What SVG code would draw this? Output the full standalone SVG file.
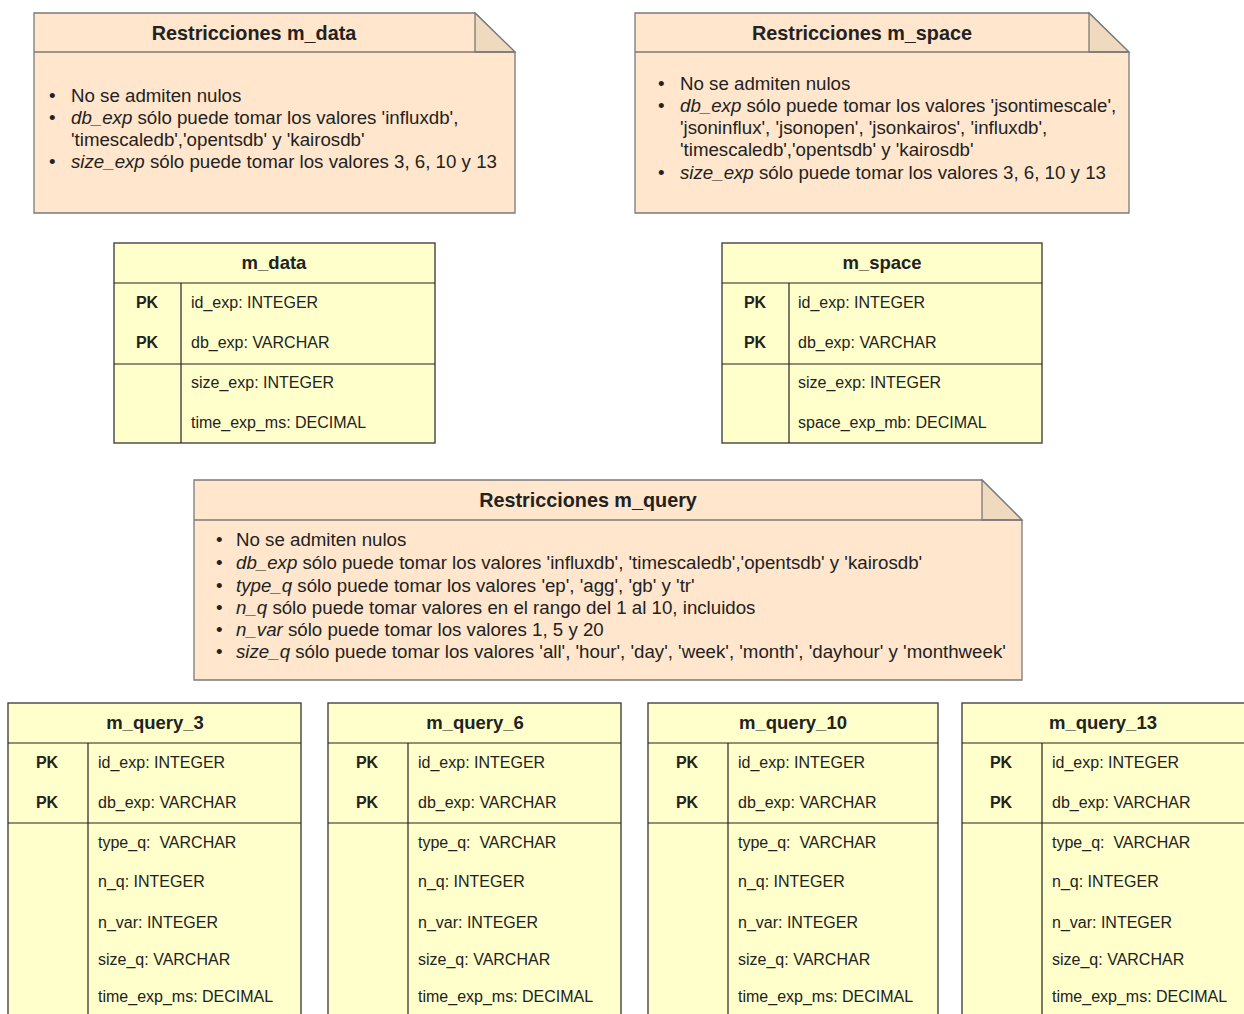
<svg xmlns="http://www.w3.org/2000/svg" width="1244" height="1014" viewBox="0 0 1244 1014">
  <style>
    text { font-family: "Liberation Sans", Arial, sans-serif; fill: #222; }
    .note { fill: #ffe6cc; stroke: #7a7a7a; stroke-width: 1.3; }
    .fold { fill: #efd9bf; stroke: #7a7a7a; stroke-width: 1.3; }
    .ntitle { font-size: 19.8px; font-weight: bold; text-anchor: middle; }
    .nbody { font-size: 18.7px; }
    .tbl { fill: #ffffcc; stroke: #444; stroke-width: 1.4; }
    .ln { stroke: #222; stroke-width: 1.2; fill: none; }
    .ttitle { font-size: 18.5px; font-weight: bold; text-anchor: middle; }
    .pk { font-size: 16px; font-weight: bold; text-anchor: middle; }
    .fld { font-size: 16px; }
    .it { font-style: italic; }
  </style>

  <!-- Note: constraints for m_data -->
  <g id="note-m_data">
    <path class="note" d="M34,13 H475 L515,52 V213 H34 Z"/>
    <path class="fold" d="M475,13 L515,52 H475 Z"/>
    <line class="note" x1="34" y1="52" x2="515" y2="52"/>
    <text class="ntitle" x="254" y="40">Restricciones m_data</text>
    <g class="nbody">
      <text x="49" y="102">•</text><text x="71" y="102">No se admiten nulos</text>
      <text x="49" y="124">•</text><text x="71" y="124"><tspan class="it">db_exp</tspan> sólo puede tomar los valores 'influxdb',</text>
      <text x="71" y="146">'timescaledb','opentsdb' y 'kairosdb'</text>
      <text x="49" y="168">•</text><text x="71" y="168"><tspan class="it">size_exp</tspan> sólo puede tomar los valores 3, 6, 10 y 13</text>
    </g>
  </g>

  <!-- Note: constraints for m_space -->
  <g id="note-m_space">
    <path class="note" d="M635,13 H1089 L1129,52 V213 H635 Z"/>
    <path class="fold" d="M1089,13 L1129,52 H1089 Z"/>
    <line class="note" x1="635" y1="52" x2="1129" y2="52"/>
    <text class="ntitle" x="862" y="40">Restricciones m_space</text>
    <g class="nbody">
      <text x="658" y="90">•</text><text x="680" y="90">No se admiten nulos</text>
      <text x="658" y="112">•</text><text x="680" y="112"><tspan class="it">db_exp</tspan> sólo puede tomar los valores 'jsontimescale',</text>
      <text x="680" y="134">'jsoninflux', 'jsonopen', 'jsonkairos', 'influxdb',</text>
      <text x="680" y="156">'timescaledb','opentsdb' y 'kairosdb'</text>
      <text x="658" y="179">•</text><text x="680" y="179"><tspan class="it">size_exp</tspan> sólo puede tomar los valores 3, 6, 10 y 13</text>
    </g>
  </g>

  <!-- Table m_data -->
  <g id="table-m_data">
    <rect class="tbl" x="114" y="243" width="321" height="200"/>
    <line class="ln" x1="114" y1="283" x2="435" y2="283"/>
    <line class="ln" x1="114" y1="364" x2="435" y2="364"/>
    <line class="ln" x1="181" y1="283" x2="181" y2="443"/>
    <text class="ttitle" x="274" y="269">m_data</text>
    <text class="pk" x="147" y="308">PK</text>
    <text class="pk" x="147" y="348">PK</text>
    <text class="fld" x="191" y="308">id_exp: INTEGER</text>
    <text class="fld" x="191" y="348">db_exp: VARCHAR</text>
    <text class="fld" x="191" y="388">size_exp: INTEGER</text>
    <text class="fld" x="191" y="428">time_exp_ms: DECIMAL</text>
  </g>

  <!-- Table m_space -->
  <g id="table-m_space">
    <rect class="tbl" x="722" y="243" width="320" height="200"/>
    <line class="ln" x1="722" y1="283" x2="1042" y2="283"/>
    <line class="ln" x1="722" y1="364" x2="1042" y2="364"/>
    <line class="ln" x1="789" y1="283" x2="789" y2="443"/>
    <text class="ttitle" x="882" y="269">m_space</text>
    <text class="pk" x="755" y="308">PK</text>
    <text class="pk" x="755" y="348">PK</text>
    <text class="fld" x="798" y="308">id_exp: INTEGER</text>
    <text class="fld" x="798" y="348">db_exp: VARCHAR</text>
    <text class="fld" x="798" y="388">size_exp: INTEGER</text>
    <text class="fld" x="798" y="428">space_exp_mb: DECIMAL</text>
  </g>

  <!-- Note: constraints for m_query -->
  <g id="note-m_query">
    <path class="note" d="M194,480 H982 L1022,520 V680 H194 Z"/>
    <path class="fold" d="M982,480 L1022,520 H982 Z"/>
    <line class="note" x1="194" y1="520" x2="1022" y2="520"/>
    <text class="ntitle" x="588" y="507">Restricciones m_query</text>
    <g class="nbody">
      <text x="216" y="546">•</text><text x="236" y="546">No se admiten nulos</text>
      <text x="216" y="569">•</text><text x="236" y="569"><tspan class="it">db_exp</tspan> sólo puede tomar los valores 'influxdb', 'timescaledb','opentsdb' y 'kairosdb'</text>
      <text x="216" y="592">•</text><text x="236" y="592"><tspan class="it">type_q</tspan> sólo puede tomar los valores 'ep', 'agg', 'gb' y 'tr'</text>
      <text x="216" y="614">•</text><text x="236" y="614"><tspan class="it">n_q</tspan> sólo puede tomar valores en el rango del 1 al 10, incluidos</text>
      <text x="216" y="636">•</text><text x="236" y="636"><tspan class="it">n_var</tspan> sólo puede tomar los valores 1, 5 y 20</text>
      <text x="216" y="658">•</text><text x="236" y="658"><tspan class="it">size_q</tspan> sólo puede tomar los valores 'all', 'hour', 'day', 'week', 'month', 'dayhour' y 'monthweek'</text>
    </g>
  </g>

  <!-- Table m_query_3 -->
  <g id="table-m_query_3">
    <rect class="tbl" x="8" y="703" width="293" height="330"/>
    <line class="ln" x1="8" y1="743" x2="301" y2="743"/>
    <line class="ln" x1="8" y1="823" x2="301" y2="823"/>
    <line class="ln" x1="88" y1="743" x2="88" y2="1033"/>
    <text class="ttitle" x="155" y="729">m_query_3</text>
    <text class="pk" x="47" y="768">PK</text>
    <text class="pk" x="47" y="808">PK</text>
    <text class="fld" x="98" y="768">id_exp: INTEGER</text>
    <text class="fld" x="98" y="808">db_exp: VARCHAR</text>
    <text class="fld" x="98" y="848" xml:space="preserve">type_q:  VARCHAR</text>
    <text class="fld" x="98" y="887">n_q: INTEGER</text>
    <text class="fld" x="98" y="928">n_var: INTEGER</text>
    <text class="fld" x="98" y="965">size_q: VARCHAR</text>
    <text class="fld" x="98" y="1002">time_exp_ms: DECIMAL</text>
  </g>

  <!-- Table m_query_6 -->
  <g id="table-m_query_6">
    <rect class="tbl" x="328" y="703" width="293" height="330"/>
    <line class="ln" x1="328" y1="743" x2="621" y2="743"/>
    <line class="ln" x1="328" y1="823" x2="621" y2="823"/>
    <line class="ln" x1="408" y1="743" x2="408" y2="1033"/>
    <text class="ttitle" x="475" y="729">m_query_6</text>
    <text class="pk" x="367" y="768">PK</text>
    <text class="pk" x="367" y="808">PK</text>
    <text class="fld" x="418" y="768">id_exp: INTEGER</text>
    <text class="fld" x="418" y="808">db_exp: VARCHAR</text>
    <text class="fld" x="418" y="848" xml:space="preserve">type_q:  VARCHAR</text>
    <text class="fld" x="418" y="887">n_q: INTEGER</text>
    <text class="fld" x="418" y="928">n_var: INTEGER</text>
    <text class="fld" x="418" y="965">size_q: VARCHAR</text>
    <text class="fld" x="418" y="1002">time_exp_ms: DECIMAL</text>
  </g>

  <!-- Table m_query_10 -->
  <g id="table-m_query_10">
    <rect class="tbl" x="648" y="703" width="290" height="330"/>
    <line class="ln" x1="648" y1="743" x2="938" y2="743"/>
    <line class="ln" x1="648" y1="823" x2="938" y2="823"/>
    <line class="ln" x1="728" y1="743" x2="728" y2="1033"/>
    <text class="ttitle" x="793" y="729">m_query_10</text>
    <text class="pk" x="687" y="768">PK</text>
    <text class="pk" x="687" y="808">PK</text>
    <text class="fld" x="738" y="768">id_exp: INTEGER</text>
    <text class="fld" x="738" y="808">db_exp: VARCHAR</text>
    <text class="fld" x="738" y="848" xml:space="preserve">type_q:  VARCHAR</text>
    <text class="fld" x="738" y="887">n_q: INTEGER</text>
    <text class="fld" x="738" y="928">n_var: INTEGER</text>
    <text class="fld" x="738" y="965">size_q: VARCHAR</text>
    <text class="fld" x="738" y="1002">time_exp_ms: DECIMAL</text>
  </g>

  <!-- Table m_query_13 -->
  <g id="table-m_query_13">
    <rect class="tbl" x="962" y="703" width="295" height="330"/>
    <line class="ln" x1="962" y1="743" x2="1257" y2="743"/>
    <line class="ln" x1="962" y1="823" x2="1257" y2="823"/>
    <line class="ln" x1="1042" y1="743" x2="1042" y2="1033"/>
    <text class="ttitle" x="1103" y="729">m_query_13</text>
    <text class="pk" x="1001" y="768">PK</text>
    <text class="pk" x="1001" y="808">PK</text>
    <text class="fld" x="1052" y="768">id_exp: INTEGER</text>
    <text class="fld" x="1052" y="808">db_exp: VARCHAR</text>
    <text class="fld" x="1052" y="848" xml:space="preserve">type_q:  VARCHAR</text>
    <text class="fld" x="1052" y="887">n_q: INTEGER</text>
    <text class="fld" x="1052" y="928">n_var: INTEGER</text>
    <text class="fld" x="1052" y="965">size_q: VARCHAR</text>
    <text class="fld" x="1052" y="1002">time_exp_ms: DECIMAL</text>
  </g>

  <!-- No connectors between elements -->
  <g id="connectors"/>
</svg>
